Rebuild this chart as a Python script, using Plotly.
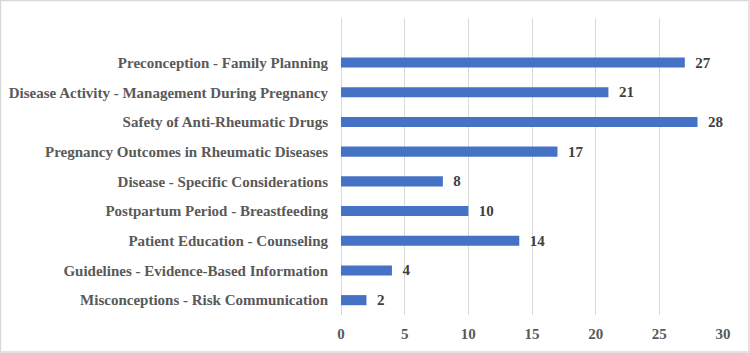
import plotly.graph_objects as go

categories = [
    "Misconceptions - Risk Communication",
    "Guidelines - Evidence-Based Information",
    "Patient Education - Counseling",
    "Postpartum Period - Breastfeeding",
    "Disease - Specific Considerations",
    "Pregnancy Outcomes in Rheumatic Diseases",
    "Safety of Anti-Rheumatic Drugs",
    "Disease Activity - Management During Pregnancy",
    "Preconception - Family Planning",
]
values = [2, 4, 14, 10, 8, 17, 28, 21, 27]
x_ticks = [0, 5, 10, 15, 20, 25, 30]

W, H = 750, 353
ML, MR, MT, MB = 341, 27, 18, 38
pw = W - ML - MR
ph = H - MT - MB
FONT = "'Times New Roman', 'Liberation Serif', serif"

fig = go.Figure(go.Bar(
    x=values, y=categories, orientation="h",
    marker=dict(color="#4472C4", line=dict(width=0)),
    width=0.34,
    text=values, texttemplate="  %{x}", textposition="outside",
    constraintext="none",
    textfont=dict(family=FONT, size=15, color="#404040", weight="bold"),
    cliponaxis=False,
))

fig.update_layout(
    width=W, height=H,
    margin=dict(l=ML, r=MR, t=MT, b=MB, pad=0, autoexpand=False),
    paper_bgcolor="white", plot_bgcolor="white",
    showlegend=False,
    font=dict(family=FONT, color="#595959"),
    xaxis=dict(
        range=[0, 30], tickvals=x_ticks, showgrid=True, gridcolor="#D9D9D9", gridwidth=1,
        zeroline=True, zerolinecolor="#D9D9D9", zerolinewidth=1, automargin=False,
        tickfont=dict(family=FONT, size=15, color="#595959", weight="bold"),
        ticks="", ticklabelstandoff=8, fixedrange=True,
    ),
    yaxis=dict(
        type="category", categoryorder="array", categoryarray=categories,
        range=[-0.5, len(categories) + 0.5], automargin=False,
        showgrid=False, ticks="", ticklabelstandoff=12,
        tickfont=dict(family=FONT, size=15, color="#595959", weight="bold"),
    ),
    shapes=[dict(
        type="rect", xref="paper", yref="paper",
        x0=-(ML - 0.5) / pw, x1=1 + (MR - 1) / pw,
        y0=-(MB - 1) / ph, y1=1 + (MT - 0.5) / ph,
        line=dict(color="#D9D9D9", width=1.5), layer="below",
    )],
)

fig.write_html("out.html")
